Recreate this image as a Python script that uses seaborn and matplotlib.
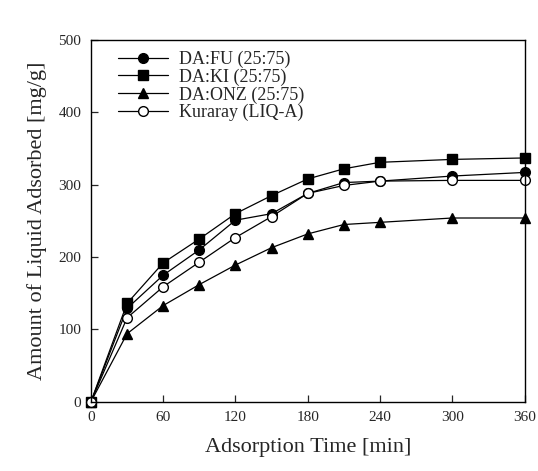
import numpy as np
import pandas as pd
import matplotlib
matplotlib.use("Agg")
import matplotlib.pyplot as plt
import seaborn as sns

# Adsorption time [min]
time_min = [0, 30, 60, 90, 120, 150, 180, 210, 240, 300, 360]

# Amount of liquid adsorbed [mg/g]
da_fu = [0, 129, 175, 210, 251, 260, 288, 303, 305, 312, 317]
da_ki = [0, 136, 192, 225, 260, 285, 308, 322, 331, 335, 337]
da_onz = [0, 94, 133, 162, 189, 213, 232, 245, 248, 254, 254]
kuraray = [0, 116, 159, 193, 227, 256, 288, 299, 305, 306, 306]

series_names = ["DA:FU (25:75)", "DA:KI (25:75)", "DA:ONZ (25:75)", "Kuraray (LIQ-A)"]
series_values = [da_fu, da_ki, da_onz, kuraray]
series_markers = ["o", "s", "^", "o"]
series_faces = ["black", "black", "black", "white"]

x_ticks = [0, 60, 120, 180, 240, 300, 360]
y_ticks = [0, 100, 200, 300, 400, 500]

sns.set_style("ticks")
plt.rcParams['font.family'] = ['Liberation Serif', 'DejaVu Serif']

fig = plt.figure(figsize=(5.38, 4.71), dpi=100)
ax = fig.add_axes([0.169, 0.147, 0.806, 0.768])

for name, values, marker, face in zip(series_names, series_values, series_markers, series_faces):
    df = pd.DataFrame({"time": time_min, "amount": values})
    sns.lineplot(
        data=df, x="time", y="amount", ax=ax,
        color="black", linewidth=0.9,
        marker=marker, markersize=7 if marker != "^" else 7.5,
        markerfacecolor=face, markeredgecolor="black", markeredgewidth=1.0,
        label=name, clip_on=False,
    )

ax.set_xlim(0, 360)
ax.set_ylim(0, 500)
ax.set_xticks(x_ticks)
ax.set_yticks(y_ticks)
ax.tick_params(direction="in", length=5, width=0.9, labelsize=11, pad=7,
               top=False, right=False)
for spine in ax.spines.values():
    spine.set_linewidth(1.0)
    spine.set_color("black")

ax.set_xlabel("Adsorption Time [min]", fontsize=16, labelpad=10)
ax.set_ylabel("Amount of Liquid Adsorbed [mg/g]", fontsize=16, labelpad=8)

leg = ax.legend(loc="upper left", frameon=False, fontsize=13, handlelength=2.8,
                handletextpad=0.6, labelspacing=0.02, borderaxespad=0.2,
                bbox_to_anchor=(0.037, 1.0))

fig.savefig("out.png", dpi=100)
